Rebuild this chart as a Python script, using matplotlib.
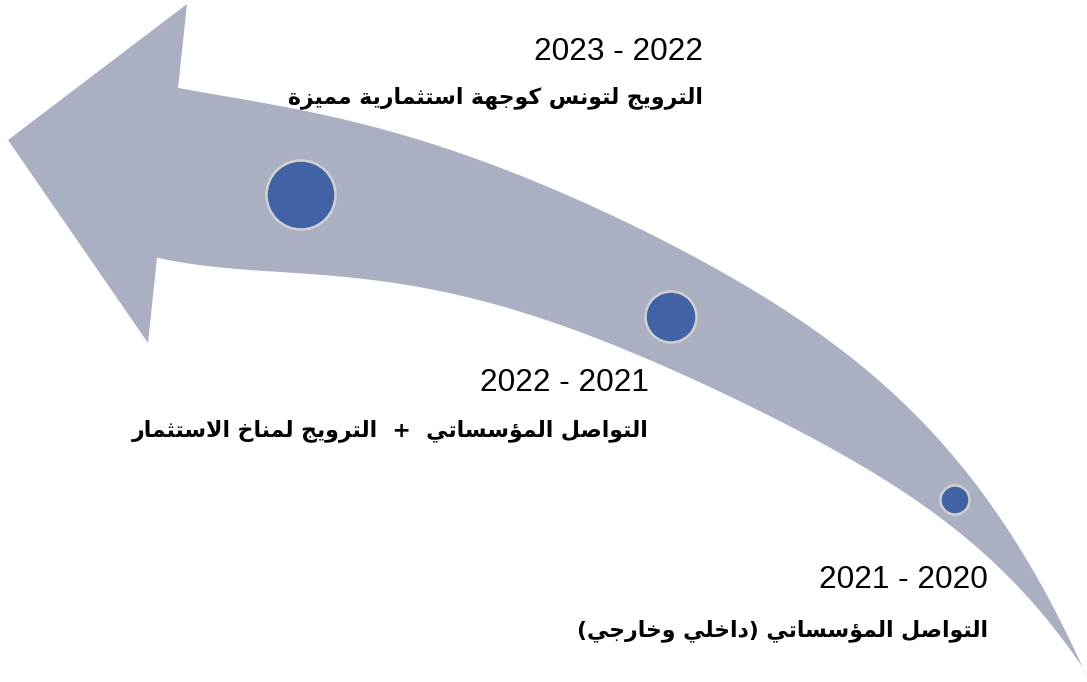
"""
Curved timeline arrow with three milestones (2020 -> 2023)
"""
import numpy as np
import matplotlib.pyplot as plt
from matplotlib.patches import Polygon, Circle

# Milestones (from bottom-right to top-left)
periods = ["2021 - 2020", "2022 - 2021", "2023 - 2022"]
labels = [
    "التواصل المؤسساتي (داخلي وخارجي)",
    "التواصل المؤسساتي  +  الترويج لمناخ الاستثمار",
    "الترويج لتونس كوجهة استثمارية مميزة",
]

# Layout in pixels (image coords, y down)
circle_xy = [(955, 500), (671, 317), (301, 195)]
circle_r = [14.5, 25.5, 34.5]
text_right = [988, 649, 703]
period_y = [580, 383, 52]
label_y = [631, 431, 98]

# Arrow outline
head = [(8, 140), (187, 4), (178, 88)]
upper_x = [178, 290, 400, 483, 570, 640, 740, 840, 900, 947, 973, 997, 1020, 1047, 1067, 1087]
upper_y = [88, 107, 137, 160, 193, 230, 287, 348, 396, 445, 482, 517, 553, 594, 631, 678]
lower_x = [157, 283, 417, 555, 640, 740, 840, 880, 913, 947, 980, 1013, 1047, 1073, 1087]
lower_y = [258, 270, 290, 322, 355, 400, 453, 479, 500, 523, 550, 580, 617, 651, 678]
head_low = [(157, 258), (148, 343), (8, 140)]

ARROW = '#aaafc1'
DOT = '#4163a5'
RING = '#d0d0d0'

# --- tiny Arabic shaper (matplotlib does no shaping / bidi) ---
FORMS = {
    'ء': (0xFE80, 1), 'آ': (0xFE81, 2), 'أ': (0xFE83, 2), 'ؤ': (0xFE85, 2),
    'إ': (0xFE87, 2), 'ئ': (0xFE89, 4), 'ا': (0xFE8D, 2), 'ب': (0xFE8F, 4),
    'ة': (0xFE93, 2), 'ت': (0xFE95, 4), 'ث': (0xFE99, 4), 'ج': (0xFE9D, 4),
    'ح': (0xFEA1, 4), 'خ': (0xFEA5, 4), 'د': (0xFEA9, 2), 'ذ': (0xFEAB, 2),
    'ر': (0xFEAD, 2), 'ز': (0xFEAF, 2), 'س': (0xFEB1, 4), 'ش': (0xFEB5, 4),
    'ص': (0xFEB9, 4), 'ض': (0xFEBD, 4), 'ط': (0xFEC1, 4), 'ظ': (0xFEC5, 4),
    'ع': (0xFEC9, 4), 'غ': (0xFECD, 4), 'ف': (0xFED1, 4), 'ق': (0xFED5, 4),
    'ك': (0xFED9, 4), 'ل': (0xFEDD, 4), 'م': (0xFEE1, 4), 'ن': (0xFEE5, 4),
    'ه': (0xFEE9, 4), 'و': (0xFEED, 2), 'ى': (0xFEEF, 2), 'ي': (0xFEF1, 4),
}
MIRROR = {'(': ')', ')': '('}


def shape_arabic(text):
    out = []
    i, n = 0, len(text)
    while i < n:
        c = text[i]
        if c not in FORMS:
            out.append(c)
            i += 1
            continue
        prev = text[i - 1] if i > 0 else None
        joins_prev = prev in FORMS and FORMS[prev][1] == 4
        if c == 'ل' and i + 1 < n and text[i + 1] == 'ا':
            out.append(chr(0xFEFC if joins_prev else 0xFEFB))
            i += 2
            continue
        base, k = FORMS[c]
        nxt = text[i + 1] if i + 1 < n else None
        joins_next = k == 4 and nxt in FORMS and FORMS[nxt][1] > 1
        if k == 1:
            form = 0
        elif joins_prev and joins_next:
            form = 3
        elif joins_prev:
            form = 1
        elif joins_next:
            form = 2
        else:
            form = 0
        out.append(chr(base + form))
        i += 1
    # visual order (right to left)
    return ''.join(MIRROR.get(ch, ch) for ch in reversed(out))


def edge(xs, ys, deg=5, n=300):
    # smooth y(x) through the traced edge points
    xs = np.asarray(xs, float)
    ys = np.asarray(ys, float)
    t = (xs - xs[0]) / (xs[-1] - xs[0])
    coef = np.polyfit(t, ys, deg)
    tt = np.linspace(0, 1, n)
    yy = np.polyval(coef, tt)
    yy[-1] = ys[-1]  # both edges meet at the tail point
    return np.column_stack([xs[0] + tt * (xs[-1] - xs[0]), yy])


fig = plt.figure(figsize=(10.87, 6.82), dpi=100)
ax = fig.add_axes([0, 0, 1, 1])
ax.set_xlim(0, 1087)
ax.set_ylim(682, 0)
ax.axis('off')

outline = np.vstack([np.array(head[:-1], float),
                     edge(upper_x, upper_y),
                     edge(lower_x, lower_y)[::-1],
                     np.array(head_low[1:], float)])
ax.add_patch(Polygon(outline, closed=True, facecolor=ARROW, edgecolor='none'))

for (cx, cy), r in zip(circle_xy, circle_r):
    ax.add_patch(Circle((cx, cy), r, facecolor=DOT, edgecolor=RING, linewidth=1.8))

for per, lab, xr, py, ly in zip(periods, labels, text_right, period_y, label_y):
    ax.text(xr, py, per, ha='right', va='center', fontsize=22.7,
            family=['Liberation Sans', 'DejaVu Sans'], color='black')
    ax.text(xr, ly, shape_arabic(lab), ha='right', va='center', fontsize=15.8,
            fontweight='bold', family=['DejaVu Sans'], color='black')

plt.savefig('out.png', dpi=100)
